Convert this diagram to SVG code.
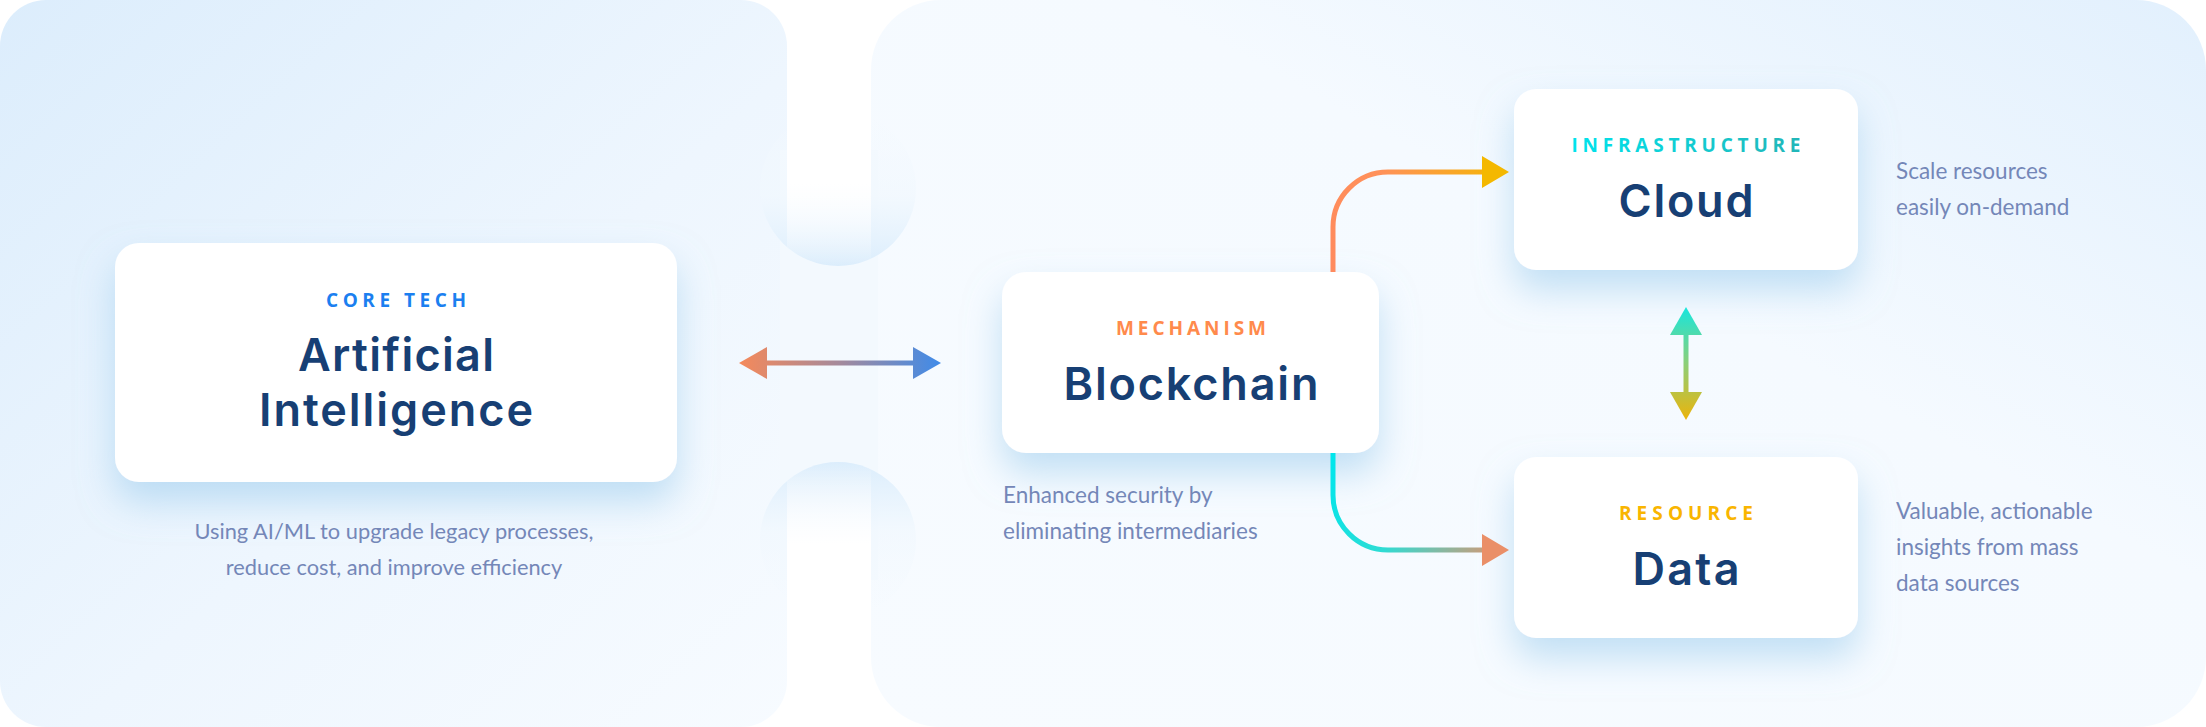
<svg xmlns="http://www.w3.org/2000/svg" width="2206" height="727" viewBox="0 0 2206 727">
<defs>
<style>
.box{fill:#ffffff}
.lbl{font-family:"Open Sans","Lato",sans-serif;font-weight:700;font-size:19px;text-anchor:middle}
.ttl{font-family:"Inter","Lato",sans-serif;font-weight:600;font-size:45px;fill:#173f74;text-anchor:middle}
.dsc{font-family:"Lato","Noto Sans",sans-serif;font-size:22.5px;fill:#7487b8}
</style>
<linearGradient id="gLeft" x1="0" y1="0" x2="1" y2="1">
<stop offset="0" stop-color="#dcedfc"/>
<stop offset="0.55" stop-color="#eef6fe"/>
<stop offset="1" stop-color="#f7fbff"/>
</linearGradient>
<linearGradient id="gRight" x1="0" y1="1" x2="1" y2="0">
<stop offset="0" stop-color="#f7fbff"/>
<stop offset="0.6" stop-color="#f5faff"/>
<stop offset="1" stop-color="#e2f0fd"/>
</linearGradient>
<linearGradient id="bumpDown" x1="0" y1="0" x2="0" y2="1">
<stop offset="0" stop-color="#f3f9fe" stop-opacity="0"/>
<stop offset="0.55" stop-color="#f1f8fe" stop-opacity="0.7"/>
<stop offset="1" stop-color="#dbedfc"/>
</linearGradient>
<linearGradient id="bumpUp" x1="0" y1="1" x2="0" y2="0">
<stop offset="0" stop-color="#f3f9fe" stop-opacity="0"/>
<stop offset="0.55" stop-color="#f1f8fe" stop-opacity="0.7"/>
<stop offset="1" stop-color="#dbedfc"/>
</linearGradient>
<linearGradient id="colDown" gradientUnits="userSpaceOnUse" x1="0" y1="0" x2="0" y2="266">
<stop offset="0" stop-color="#ffffff"/>
<stop offset="0.69" stop-color="#ffffff"/>
<stop offset="1" stop-color="#ffffff" stop-opacity="0"/>
</linearGradient>
<linearGradient id="colUp" gradientUnits="userSpaceOnUse" x1="0" y1="727" x2="0" y2="462">
<stop offset="0" stop-color="#ffffff"/>
<stop offset="0.69" stop-color="#ffffff"/>
<stop offset="1" stop-color="#ffffff" stop-opacity="0"/>
</linearGradient>
<clipPath id="clipTop"><rect x="787" y="0" width="84" height="188"/><circle cx="838" cy="188" r="78"/></clipPath>
<clipPath id="clipBot"><rect x="787" y="540" width="84" height="187"/><circle cx="838" cy="540" r="78"/></clipPath>
<filter id="shadow" x="-20%" y="-30%" width="140%" height="180%">
<feDropShadow dx="0" dy="20" stdDeviation="18" flood-color="#8cc4ea" flood-opacity="0.5"/>
</filter>
<linearGradient id="gInfra" x1="0" y1="0" x2="1" y2="0">
<stop offset="0" stop-color="#00e3ec"/>
<stop offset="1" stop-color="#22b6b8"/>
</linearGradient>
<linearGradient id="gH" gradientUnits="userSpaceOnUse" x1="739" y1="0" x2="941" y2="0">
<stop offset="0" stop-color="#f5895a"/>
<stop offset="0.5" stop-color="#a48a9c"/>
<stop offset="1" stop-color="#3f8be9"/>
</linearGradient>
<linearGradient id="gUp" gradientUnits="userSpaceOnUse" x1="1333" y1="272" x2="1509" y2="172">
<stop offset="0" stop-color="#ff8a5e"/>
<stop offset="0.45" stop-color="#ff915a"/>
<stop offset="1" stop-color="#f4b800"/>
</linearGradient>
<linearGradient id="gDn" gradientUnits="userSpaceOnUse" x1="1333" y1="453" x2="1509" y2="550">
<stop offset="0" stop-color="#00e6ec"/>
<stop offset="0.45" stop-color="#2edcd4"/>
<stop offset="1" stop-color="#ea8f68"/>
</linearGradient>
<linearGradient id="gV" gradientUnits="userSpaceOnUse" x1="0" y1="307" x2="0" y2="420">
<stop offset="0" stop-color="#16e6de"/>
<stop offset="0.5" stop-color="#8ccf78"/>
<stop offset="1" stop-color="#ecb40a"/>
</linearGradient>
</defs>

<g id="background">
<rect x="0" y="0" width="2206" height="727" fill="#ffffff"/>
<rect x="0" y="0" width="787" height="727" rx="46" fill="url(#gLeft)"/>
<rect x="871" y="0" width="1335" height="727" rx="70" fill="url(#gRight)"/>
<rect x="780" y="150" width="98" height="430" fill="#f3f9fe"/>
<circle cx="838" cy="188" r="78" fill="url(#bumpDown)"/>
<circle cx="838" cy="540" r="78" fill="url(#bumpUp)"/>
<rect x="787" y="0" width="84" height="266" fill="url(#colDown)" clip-path="url(#clipTop)"/>
<rect x="787" y="462" width="84" height="265" fill="url(#colUp)" clip-path="url(#clipBot)"/>
</g>

<g id="node-ai">
<rect class="box" x="115" y="243" width="562" height="239" rx="24" filter="url(#shadow)"/>
<text class="lbl" x="396" y="307" fill="#1b7ff0" textLength="140" lengthAdjust="spacing">CORE TECH</text>
<text class="ttl" x="396" y="371" textLength="196" lengthAdjust="spacing">Artificial</text>
<text class="ttl" x="396" y="426" textLength="274" lengthAdjust="spacing">Intelligence</text>
<text class="dsc" x="394" y="539" text-anchor="middle" style="font-size:21.8px">Using AI/ML to upgrade legacy processes,</text>
<text class="dsc" x="394" y="575" text-anchor="middle" style="font-size:21.8px">reduce cost, and improve efficiency</text>
</g>

<g id="node-blockchain">
<rect class="box" x="1002" y="272" width="377" height="181" rx="24" filter="url(#shadow)"/>
<text class="lbl" x="1191" y="335" fill="#ff8a4c" textLength="150" lengthAdjust="spacing">MECHANISM</text>
<text class="ttl" x="1191" y="400" textLength="255" lengthAdjust="spacing">Blockchain</text>
<text class="dsc" x="1003" y="503">Enhanced security by</text>
<text class="dsc" x="1003" y="539">eliminating intermediaries</text>
</g>

<g id="node-cloud">
<rect class="box" x="1514" y="89" width="344" height="181" rx="22" filter="url(#shadow)"/>
<text class="lbl" x="1686" y="152" fill="url(#gInfra)" textLength="229" lengthAdjust="spacing">INFRASTRUCTURE</text>
<text class="ttl" x="1686" y="217" textLength="135" lengthAdjust="spacing">Cloud</text>
<text class="dsc" x="1896" y="179">Scale resources</text>
<text class="dsc" x="1896" y="215">easily on-demand</text>
</g>

<g id="node-data">
<rect class="box" x="1514" y="457" width="344" height="181" rx="22" filter="url(#shadow)"/>
<text class="lbl" x="1686" y="520" fill="#f9b500" textLength="134" lengthAdjust="spacing">RESOURCE</text>
<text class="ttl" x="1686" y="585" textLength="107" lengthAdjust="spacing">Data</text>
<text class="dsc" x="1896" y="519">Valuable, actionable</text>
<text class="dsc" x="1896" y="555">insights from mass</text>
<text class="dsc" x="1896" y="591">data sources</text>
</g>

<g id="connectors">
<g id="ai-blockchain" fill="url(#gH)">
<rect x="765" y="360.5" width="150" height="5"/>
<polygon points="739,363 767,347 767,379"/>
<polygon points="941,363 913,347 913,379"/>
</g>
<g id="blockchain-cloud">
<path d="M1333,272 V227 A55,55 0 0 1 1388,172 H1484" fill="none" stroke="url(#gUp)" stroke-width="5"/>
<polygon points="1509,172 1482,156 1482,188" fill="#f4b800"/>
</g>
<g id="blockchain-data">
<path d="M1333,453 V495 A55,55 0 0 0 1388,550 H1484" fill="none" stroke="url(#gDn)" stroke-width="5"/>
<polygon points="1509,550 1482,534 1482,566" fill="#ea8f68"/>
</g>
<g id="cloud-data" fill="url(#gV)">
<rect x="1683.5" y="333" width="5" height="61"/>
<polygon points="1686,307 1670,335 1702,335"/>
<polygon points="1686,420 1670,392 1702,392"/>
</g>
</g>
</svg>
